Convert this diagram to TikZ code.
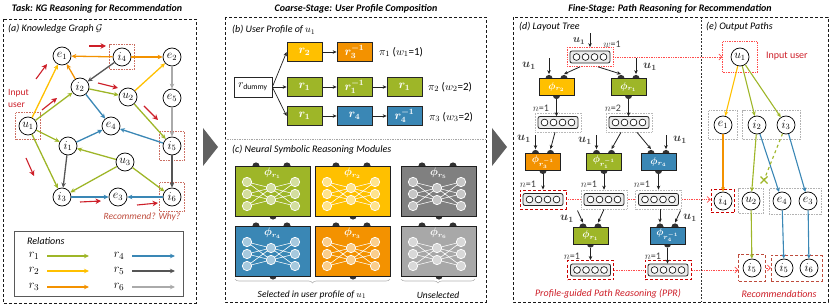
\documentclass[tikz,border=0pt]{standalone}
\usepackage{fontspec}
\setmainfont{Carlito}
\usepackage{amsmath,bm}
\usetikzlibrary{arrows.meta,fit,decorations.pathreplacing,backgrounds}
\definecolor{cA}{RGB}{158,182,40}
\definecolor{cB}{RGB}{255,192,0}
\definecolor{cC}{RGB}{243,146,0}
\definecolor{cD}{RGB}{58,135,181}
\definecolor{cE}{RGB}{85,85,85}
\definecolor{cF}{RGB}{170,170,170}
\definecolor{mE}{RGB}{128,128,128}
\definecolor{mF}{RGB}{168,168,168}
\definecolor{redA}{RGB}{205,30,40}
\definecolor{brick}{RGB}{190,75,60}
\definecolor{ink}{RGB}{64,64,64}
\definecolor{bumpc}{RGB}{50,50,50}

% big neural module: name, x, y (top-left), colour, label
\newcommand\NSMod[5]{%
 \begin{scope}[shift={(#2,#3)}]
  \fill[bumpc] (21,0) circle (3.6pt) (52,0) circle (3.6pt) (38,50) circle (3.6pt);
  \node[draw=gray!25!black,line width=0.8pt,fill=#4,minimum width=75pt,minimum height=50pt,inner sep=0pt,anchor=north west] (#1) at (0,0) {};
  \node[text=white,font=\fontsize{10.5}{10}\selectfont] at (37.5,7.5) {$\bm{\phi_{#5}}$};
  \foreach \a in {16,28,40}{\foreach \b in {22,34}{\draw[white,line width=0.6pt] (12,\a) -- (36,\b) -- (60,\a);}}
  \foreach \a in {16,28,40}{\draw[white,fill=#4!45!white,line width=0.7pt] (12,\a) circle (4.7pt) (60,\a) circle (4.7pt);}
  \foreach \b in {22,34}{\draw[white,fill=#4!45!white,line width=0.7pt] (36,\b) circle (4.7pt);}
 \end{scope}}

% small layout-tree module: name, x, y (centre), colour, label
\newcommand\LTMod[5]{%
 \begin{scope}[shift={(#2,#3)}]
  \fill[bumpc] (-7.5,-8.5) circle (3.6pt) (7.5,-8.5) circle (3.6pt) (0,8.5) circle (3.6pt);
 \end{scope}
 \node[draw=gray!25!black,line width=0.8pt,fill=#4,minimum width=35pt,minimum height=17pt,inner sep=0pt,text=white,font=\fontsize{10}{10}\selectfont] (#1) at (#2,#3) {$\bm{\phi_{#5}}$};}

% vector: name, x, y, box style
\newcommand\VecBox[4]{%
 \node[#4,minimum width=46pt,minimum height=19pt,inner sep=0pt,fill=white] (#1) at (#2,#3) {};
 \begin{scope}[shift={(#2,#3)}]
  \draw[draw=gray!30!black,fill=gray!15,line width=0.8pt,rounded corners=2pt] (-20,-6) rectangle (20,6);
  \foreach \k in {-13.5,-4.5,4.5,13.5} \draw[black,fill=white,line width=0.6pt] (\k,0) circle (3.4pt);
 \end{scope}}

\begin{document}
\begin{tikzpicture}[x=1pt,y=-1pt,
 kg/.style={circle,draw=black,fill=white,line width=0.7pt,minimum size=18pt,inner sep=0pt,font=\fontsize{12}{12}\selectfont},
 rel/.style={line width=1.3pt,-{Stealth[length=5pt,width=4.5pt]}},
 relb/.style={line width=1.1pt,-{Stealth[length=4.5pt,width=4pt]}},
 hint/.style={draw=redA,line width=1.1pt,-{Stealth[length=5.5pt,width=5.5pt]}},
 kgbox/.style={draw=brick!80,densely dotted,line width=0.6pt,inner sep=3pt},
 graybox/.style={draw=gray!60,densely dotted,line width=0.6pt},
 ebox/.style={draw=brick,dash pattern=on 3pt off 2pt,line width=0.7pt},
 vdot/.style={draw=gray!55,densely dotted,line width=0.6pt},
 vred/.style={draw=red!80!black,dash pattern=on 3pt off 2pt,line width=0.9pt},
 rdot/.style={draw=red!70,densely dotted,line width=0.7pt},
 reddot/.style={draw=red!70,densely dotted,line width=0.7pt,-{Straight Barb[length=3pt,width=6pt]}},
 frame/.style={draw=gray!20!black,dash pattern=on 3pt off 2pt,line width=0.7pt},
 ttl/.style={font=\fontsize{10}{12}\selectfont\bfseries\itshape},
 sub/.style={font=\fontsize{10}{12}\selectfont\itshape,anchor=west,inner sep=0pt},
 pbox/.style={draw=gray!30!black,line width=0.7pt,minimum width=35pt,minimum height=18.5pt,inner sep=0pt,text=white,font=\fontsize{11.5}{11}\selectfont},
 barrow/.style={-{Stealth[length=4pt,width=3.5pt]},draw=gray!25!black,line width=0.7pt},
 tarr/.style={-{Stealth[length=4pt,width=3.5pt]},draw=gray!25!black,line width=0.8pt},
 lbl/.style={font=\fontsize{10}{10}\selectfont,text=ink,inner sep=1pt},
 ulbl/.style={font=\fontsize{11.5}{11}\selectfont,text=ink,inner sep=1pt},
 legl/.style={font=\fontsize{12.5}{12}\selectfont,inner sep=0pt},
 plbl/.style={anchor=west,font=\fontsize{11}{11}\selectfont,inner sep=0pt}
]
\useasboundingbox (0,0) rectangle (830,307);

%================ Panel (a) =================
\node[ttl] (ta) at (97,9) {Task: KG Reasoning for Recommendation};
\draw[frame] (3,19) rectangle (196,303);
\node[sub] (la) at (8,29) {(a) Knowledge Graph $\mathcal{G}$};

\node[kg] (e1) at (62,56) {$e_1$};
\node[kg] (i4) at (122,57) {$i_4$};
\node[kg] (e2) at (172,57) {$e_2$};
\node[kg] (i2) at (80,87) {$i_2$};
\node[kg] (u2) at (128,97) {$u_2$};
\node[kg] (e5) at (172,98) {$e_5$};
\node[kg] (u1) at (28,126) {$u_1$};
\node[kg] (e4) at (111,126) {$e_4$};
\node[kg] (i1) at (68,146) {$i_1$};
\node[kg] (i5) at (172,146) {$i_5$};
\node[kg] (u3) at (125,162) {$u_3$};
\node[kg] (i3) at (62,197) {$i_3$};
\node[kg] (e3) at (118,197) {$e_3$};
\node[kg] (i6) at (172,197) {$i_6$};

\node[kgbox,fit=(i4)] (bx1) {};
\node[kgbox,fit=(u1),inner xsep=3pt,inner ysep=4pt] (bx2) {};
\node[kgbox,fit=(i5),inner ysep=5pt] (bx3) {};
\node[kgbox,fit=(i6),inner ysep=5pt] (bx4) {};

\draw[rel,cC] (i4) -- (e1);
\draw[rel,cC] (i4) -- (e2);
\draw[rel,cC] (i2) -- (e1);
\draw[rel,cE] (i4) -- (i2);
\draw[rel,cE] (i1) -- (i3);
\draw[rel,cE] (i5) -- (i6);
\draw[rel,cB] (u1) -- (e1);
\draw[rel,cB] (u2) -- (e2);
\draw[rel,cA] (u1) -- (i2);
\draw[rel,cA] (i2) -- (u2);
\draw[rel,cA] (u2) -- (i5);
\draw[rel,cA] (u1) -- (i1);
\draw[rel,cA] (u1) -- (i3);
\draw[rel,cA] (u3) -- (i1);
\draw[rel,cA] (u3) -- (i3);
\draw[rel,cA] (u3) -- (i6);
\draw[rel,cD] (i2) -- (e4);
\draw[rel,cD] (i5) -- (e4);
\draw[rel,cD] (i1) -- (e4);
\draw[rel,cD] (i3) -- (e3);
\draw[rel,cD] (i6) -- (e3);
\draw[rel,cF] (e2) -- (e5);
\draw[rel,cF] (e5) -- (i5);

\draw[hint] (36,79) -- (47,64);
\draw[hint] (89,46) -- (106,46);
\draw[hint] (98,83) -- (118,88);
\draw[hint] (42,110) -- (57,98);
\draw[hint] (144,106) -- (158,120);
\draw[hint] (26,158) -- (34,176);
\draw[hint] (80,202) -- (101,201);
\draw[hint] (137,205) -- (158,203);

\node[anchor=west,align=left,text=redA,font=\fontsize{9.5}{12}\selectfont,inner sep=0pt] (iu) at (8,98) {Input\\user};
\node[text=brick,font=\fontsize{9.5}{10}\selectfont\itshape] (rw) at (142,217) {Recommend? Why?};

\node[draw=gray!70!black,line width=0.9pt,minimum width=169pt,minimum height=65pt,anchor=north west,inner sep=0pt] (leg) at (14,231) {};
\node[sub] (legt) at (27,241) {Relations};
\node[legl] (l1) at (34,256) {$r_1$};
\node[legl] (l2) at (34,271) {$r_2$};
\node[legl] (l3) at (34,287) {$r_3$};
\node[legl] (l4) at (119,256) {$r_4$};
\node[legl] (l5) at (119,271) {$r_5$};
\node[legl] (l6) at (119,287) {$r_6$};
\draw[rel,cA] (47,256) -- (89,256);
\draw[rel,cB] (47,271) -- (89,271);
\draw[rel,cC] (47,287) -- (89,287);
\draw[rel,cD] (132,256) -- (175,256);
\draw[rel,cE] (132,271) -- (175,271);
\draw[rel,cF] (132,287) -- (175,287);

% big arrows between panels
\fill[gray!75!black] (203,128) -- (218,147) -- (203,166) -- cycle;
\fill[gray!75!black] (492,128) -- (507,147) -- (492,166) -- cycle;

%================ Panel (b),(c) =================
\node[ttl] (tb) at (356,9) {Coarse-Stage: User Profile Composition};
\draw[frame] (225,17) rectangle (486,302);
\draw[gray!70,densely dotted,line width=0.7pt] (225,139) -- (486,139);
\node[sub] (lb) at (232,30) {(b) User Profile of $u_1$};

\node[pbox,fill=white,text=black,minimum width=38pt,minimum height=20pt,font=\fontsize{11}{11}\selectfont] (rd) at (253,87) {$r_{\mathrm{dummy}}$};
\node[pbox,fill=cB] (b11) at (304.5,52) {$\bm{r_2}$};
\node[pbox,fill=cC] (b12) at (354.5,52) {$\bm{r_3^{-1}}$};
\node[pbox,fill=cA] (b21) at (304.5,87) {$\bm{r_1}$};
\node[pbox,fill=cA] (b22) at (354.5,87) {$\bm{r_1^{-1}}$};
\node[pbox,fill=cA] (b23) at (404.5,87) {$\bm{r_1}$};
\node[pbox,fill=cA] (b31) at (304.5,116) {$\bm{r_1}$};
\node[pbox,fill=cD] (b32) at (354.5,116) {$\bm{r_4}$};
\node[pbox,fill=cD] (b33) at (404.5,116) {$\bm{r_4^{-1}}$};
\draw[barrow] (rd.east) -- (b11.west);
\draw[barrow] (rd.east) -- (b21.west);
\draw[barrow] (rd.east) -- (b31.west);
\draw[barrow] (b11) -- (b12);
\draw[barrow] (b21) -- (b22);
\draw[barrow] (b22) -- (b23);
\draw[barrow] (b31) -- (b32);
\draw[barrow] (b32) -- (b33);
\node[plbl] (p1) at (379,52) {$\pi_1$ ($w_1$=1)};
\node[plbl] (p2) at (428,87) {$\pi_2$ ($w_2$=2)};
\node[plbl] (p3) at (429,117) {$\pi_3$ ($w_3$=2)};

\node[sub] (lc) at (232,150) {(c) Neural Symbolic Reasoning Modules};
\NSMod{mA}{235}{166}{cA}{r_1}
\NSMod{mB}{315}{166}{cB}{r_2}
\NSMod{mE5}{401}{166}{mE}{r_5}
\NSMod{mD}{235}{226}{cD}{r_4}
\NSMod{mC}{315}{226}{cC}{r_3}
\NSMod{mF6}{401}{226}{mF}{r_6}
\draw[decorate,decoration={brace,mirror,amplitude=4pt},gray!60,line width=0.6pt] (235,279) -- (390,279);
\draw[decorate,decoration={brace,mirror,amplitude=4pt},gray!60,line width=0.6pt] (401,279) -- (475,279);
\node[font=\fontsize{9.5}{10}\selectfont\itshape] (sel) at (312,295) {Selected in user profile of $u_1$};
\node[font=\fontsize{9.5}{10}\selectfont\itshape] (uns) at (438,295) {Unselected};

%================ Panel (d),(e) =================
\node[ttl] (td) at (670,9) {Fine-Stage: Path Reasoning for Recommendation};
\draw[frame] (513,17) rectangle (828,302);
\draw[gray!40!black,dash pattern=on 2pt off 1.5pt,line width=0.5pt] (701,17) -- (701,302);
\node[sub] (ld) at (519,27) {(d) Layout Tree};
\node[sub] (le) at (706,27) {(e) Output Paths};

% root
\VecBox{v0}{590}{57}{rdot}
\node[ulbl,font=\fontsize{10.5}{10}\selectfont] (ua0) at (579,41) {$\bm{u_1}$};
\draw[tarr] ([yshift=14pt]v0.north) -- (v0.north);
\node[lbl,anchor=south] (w1) at (612,48.5) {$w$=1};

% level 1
\LTMod{m1}{556.5}{87}{cB}{r_2}
\LTMod{m2}{628.5}{87}{cA}{r_1}
\draw[tarr] ([xshift=-10pt]v0.south) -- ([xshift=7.5pt,yshift=4pt]m1.north);
\draw[tarr] ([xshift=8pt]v0.south) -- ([xshift=-7.5pt,yshift=4pt]m2.north);
\node[ulbl] (ua1) at (529,66) {$\bm{u_1}$};
\draw[tarr] ([xshift=-7.5pt,yshift=20pt]m1.north) -- ([xshift=-7.5pt,yshift=4pt]m1.north);
\node[ulbl] (ua2) at (650,67) {$\bm{u_1}$};
\draw[tarr] ([xshift=7.5pt,yshift=20pt]m2.north) -- ([xshift=7.5pt,yshift=4pt]m2.north);

% level 2 vectors
\VecBox{v1}{558}{122.5}{vdot}
\VecBox{v2}{629}{122.5}{vdot}
\draw[tarr] ([yshift=-3.6pt]m1.south) -- ([yshift=-3.6pt]m1.south |- v1.north);
\draw[tarr] ([yshift=-3.6pt]m2.south) -- ([yshift=-3.6pt]m2.south |- v2.north);
\node[lbl] (n1) at (541,108) {$n$=1};
\node[lbl] (n2) at (613,108) {$n$=2};

% level 3 modules
\LTMod{m3}{543}{162}{cC}{r_3^{-1}}
\LTMod{m4}{604}{162}{cA}{r_1^{-1}}
\LTMod{m5}{658.5}{162}{cD}{r_4}
\node[ulbl] (ua3) at (524,139) {$\bm{u_1}$};
\draw[tarr] ([xshift=-7.5pt,yshift=18pt]m3.north) -- ([xshift=-7.5pt,yshift=4pt]m3.north);
\draw[tarr] ([xshift=-3pt]v1.south) -- ([xshift=7.5pt,yshift=4pt]m3.north);
\node[ulbl] (ua4) at (585,141) {$\bm{u_1}$};
\draw[tarr] ([xshift=-7.5pt,yshift=18pt]m4.north) -- ([xshift=-7.5pt,yshift=4pt]m4.north);
\draw[tarr] ([xshift=-8pt]v2.south) -- ([xshift=7.5pt,yshift=4pt]m4.north);
\draw[tarr] ([xshift=8pt]v2.south) -- ([xshift=-7.5pt,yshift=4pt]m5.north);
\node[ulbl] (ua5) at (680,140) {$\bm{u_1}$};
\draw[tarr] ([xshift=7.5pt,yshift=18pt]m5.north) -- ([xshift=7.5pt,yshift=4pt]m5.north);

% level 4 vectors
\VecBox{v3}{543}{199.5}{vred}
\VecBox{v4}{604}{199.5}{vdot}
\VecBox{v5}{658.5}{199.5}{vdot}
\draw[tarr] ([yshift=-3.6pt]m3.south) -- (v3.north);
\draw[tarr] ([yshift=-3.6pt]m4.south) -- (v4.north);
\draw[tarr] ([yshift=-3.6pt]m5.south) -- (v5.north);
\node[lbl] (n3) at (528,184) {$n$=1};
\node[lbl] (n4) at (589,184) {$n$=1};
\node[lbl] (n5) at (642,184) {$n$=1};

% level 5 modules
\LTMod{m6}{590.5}{235.5}{cA}{r_1}
\LTMod{m7}{667.5}{235.5}{cD}{r_4^{-1}}
\node[ulbl] (ua6) at (567,219) {$\bm{u_1}$};
\draw[tarr] ([xshift=-13pt,yshift=16pt]m6.north) -- ([xshift=-7.5pt,yshift=4pt]m6.north);
\draw[tarr] (v4.south) -- ([xshift=7.5pt,yshift=4pt]m6.north);
\draw[tarr] ([xshift=1.5pt]v5.south) -- ([xshift=-7.5pt,yshift=4pt]m7.north);
\node[ulbl] (ua7) at (690,218) {$\bm{u_1}$};
\draw[tarr] ([xshift=13pt,yshift=16pt]m7.north) -- ([xshift=7.5pt,yshift=4pt]m7.north);

% level 6 vectors
\VecBox{v6}{590.5}{270}{vred}
\VecBox{v7}{668}{270}{vred}
\draw[tarr] ([yshift=-3.6pt]m6.south) -- (v6.north);
\draw[tarr] ([yshift=-3.6pt]m7.south) -- ([yshift=-3.6pt]m7.south |- v7.north);
\node[lbl] (n6) at (572,256) {$n$=1};
\node[lbl] (n7) at (653,256) {$n$=1};

\node[text=redA,font=\fontsize{10}{10}\selectfont\itshape] (ppr) at (608,294) {Profile-guided Path Reasoning (PPR)};

% panel (e)
\node[kg] (eu1) at (740,57) {$u_1$};
\node[kg] (ee1) at (723,125) {$e_1$};
\node[kg] (ei2) at (757,125) {$i_2$};
\node[kg] (ei3) at (786,125) {$i_3$};
\node[kg] (ei4) at (723,201) {$i_4$};
\node[kg] (eu2) at (751,201) {$u_2$};
\node[kg] (ee4) at (782,201) {$e_4$};
\node[kg] (ee3) at (808,201) {$e_3$};
\node[kg] (ei5a) at (752,268) {$i_5$};
\node[kg] (ei5b) at (784,268) {$i_5$};
\node[kg] (ei6) at (809,268) {$i_6$};

\node[rdot,fit=(eu1),inner xsep=8pt,inner ysep=6pt] (bu1) {};
\node[graybox,fit=(ee1),inner sep=5pt] (be1) {};
\node[graybox,fit=(ei2)(ei3),inner sep=5pt] (bi23) {};
\node[vred,fit=(ei4),inner sep=2.5pt] (bi4) {};
\node[graybox,fit=(eu2),inner sep=3pt] (bu2) {};
\node[graybox,fit=(ee4)(ee3),inner sep=3.5pt] (be43) {};
\node[ebox,fit=(ei5a),inner sep=4pt] (bi5a) {};
\node[ebox,fit=(ei5b)(ei6),inner sep=3.5pt] (bi56) {};

\node[anchor=west,text=redA,font=\fontsize{10}{10}\selectfont,inner sep=0pt] (iu2) at (766,56) {Input user};
\node[text=redA,font=\fontsize{10}{10}\selectfont\itshape] (rec) at (779,294) {Recommendations};

\draw[relb,cB] (eu1) -- (ee1);
\draw[relb,cA] (eu1) -- (ei2);
\draw[relb,cA] (eu1) -- (ei3);
\draw[relb,cC] (ee1) -- (ei4);
\draw[relb,cA] (ei2) -- (eu2);
\draw[relb,cD] (ei2) -- (ee4);
\draw[relb,cD] (ei3) -- (ee3);
\coordinate (xc) at (764,180);
\draw[cA,line width=1.1pt,dashed] (ei3) -- (xc);
\draw[cA,line width=1.1pt] (xc) +(-3.5,-3.5) -- +(3.5,3.5) (xc) +(-3.5,3.5) -- +(3.5,-3.5);
\draw[relb,cA] (eu2) -- (ei5a);
\draw[relb,cD] (ee4) -- (ei5b);
\draw[relb,cD] (ee3) -- (ei6);

\begin{scope}[on background layer]
\draw[reddot] (v0.east) -- (bu1.west |- v0.east);
\draw[reddot] (v3.east) -- (bi4.west |- v3.east);
\draw[reddot] (v6.east) -- (bi5a.west |- v6.east);
\draw[reddot] (bi5a.east) -- (bi56.west);
\end{scope}
\end{tikzpicture}
\end{document}
